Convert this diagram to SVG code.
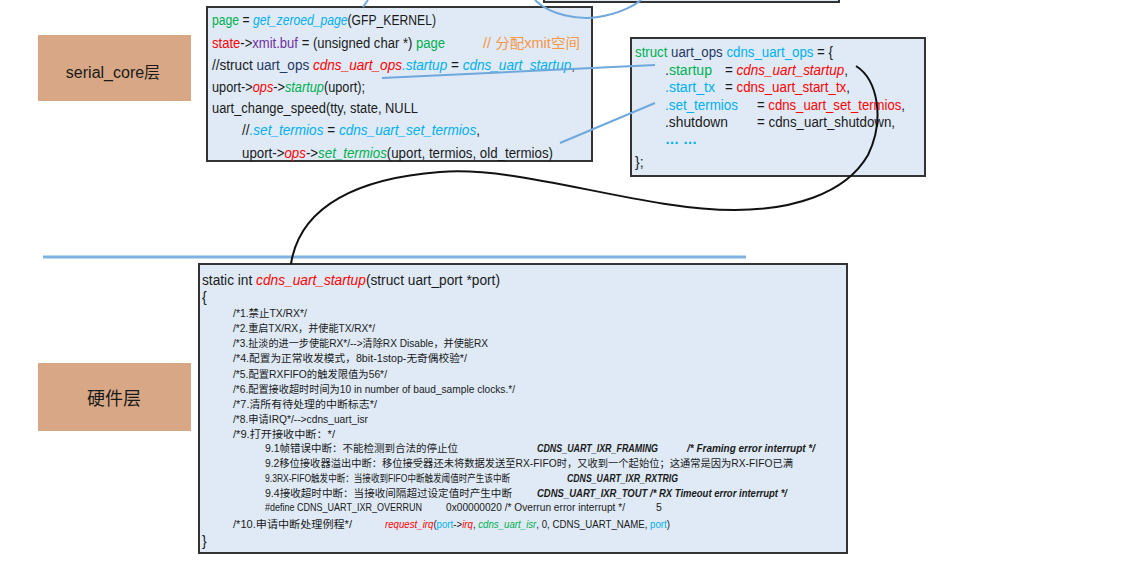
<svg xmlns="http://www.w3.org/2000/svg" width="1122" height="571" viewBox="0 0 1122 571">
<style>
text{font-family:"Liberation Sans","Noto Sans CJK SC",sans-serif;fill:#1a1a1a}
.code{font-size:14px}
.cm{font-size:10.5px}
.lbl{font-size:16px;text-anchor:middle}
.box{fill:#dfeaf6;stroke:#333;stroke-width:2}
.layer{fill:#d8a886}
.g{fill:#00b050}
.b{fill:#00b0f0}
.r{fill:#ff0000}
.p{fill:#7030a0}
.n{fill:#1f3864}
.o{fill:#f79646}
.i{font-style:italic}
.bi{font-style:italic;font-weight:bold}
.blue{fill:none;stroke:#6fa8dc;stroke-width:2}
.blk{fill:none;stroke:#111;stroke-width:2}
</style>

<g id="top-partial-box">
<rect class="box" x="544" y="-20" width="295" height="22"/>
</g>

<g id="serial-core-label">
<rect class="layer" x="38" y="35" width="153" height="66"/>
<text class="lbl" x="113" y="78">serial_core层</text>
</g>

<g id="hw-label">
<rect class="layer" x="38" y="363" width="153" height="68"/>
<text class="lbl" x="114" y="405" style="font-size:18px">硬件层</text>
</g>

<g id="uart-core-code">
<rect class="box" x="207" y="7" width="385" height="154"/>
<text class="code" x="212" y="25" textLength="224" lengthAdjust="spacingAndGlyphs"><tspan class="g">page</tspan> = <tspan class="b i">get_zeroed_page</tspan>(GFP_KERNEL)</text>
<text class="code" x="212" y="48" textLength="233" lengthAdjust="spacingAndGlyphs"><tspan class="r">state</tspan>-&gt;<tspan class="p">xmit.buf</tspan> = (unsigned char *) <tspan class="g">page</tspan></text>
<text class="code o" x="483" y="48" textLength="97" lengthAdjust="spacingAndGlyphs">// 分配xmit空间</text>
<text class="code" x="212" y="70" textLength="363" lengthAdjust="spacingAndGlyphs">//struct <tspan class="n">uart_ops</tspan> <tspan class="r i">cdns_uart_ops</tspan><tspan class="b i">.startup</tspan> = <tspan class="b i">cdns_uart_startup</tspan>,</text>
<text class="code" x="212" y="92" textLength="153" lengthAdjust="spacingAndGlyphs">uport-&gt;<tspan class="r i">ops</tspan>-&gt;<tspan class="g i">startup</tspan>(uport);</text>
<text class="code" x="212" y="113" textLength="206" lengthAdjust="spacingAndGlyphs">uart_change_speed(tty, state, NULL</text>
<text class="code" x="242" y="135" textLength="238" lengthAdjust="spacingAndGlyphs">//<tspan class="b i">.set_termios</tspan> = <tspan class="b i">cdns_uart_set_termios</tspan>,</text>
<text class="code" x="242" y="158" textLength="311" lengthAdjust="spacingAndGlyphs">uport-&gt;<tspan class="r i">ops</tspan>-&gt;<tspan class="g i">set_termios</tspan>(uport, termios, old_termios)</text>
</g>

<g id="uart-ops-struct">
<rect class="box" x="631" y="38" width="294" height="138"/>
<text class="code" x="635" y="57" textLength="198" lengthAdjust="spacingAndGlyphs"><tspan class="g">struct</tspan> <tspan class="n">uart_ops</tspan> <tspan class="b">cdns_uart_ops</tspan> = {</text>
<text class="code" x="665" y="75" textLength="47" lengthAdjust="spacingAndGlyphs"><tspan class="n">.</tspan><tspan class="g">startup</tspan></text>
<text class="code" x="725" y="75" textLength="123" lengthAdjust="spacingAndGlyphs">= <tspan class="r i">cdns_uart_startup</tspan>,</text>
<text class="code b" x="665" y="92" textLength="50" lengthAdjust="spacingAndGlyphs">.start_tx</text>
<text class="code" x="725" y="92" textLength="125" lengthAdjust="spacingAndGlyphs">= <tspan class="r">cdns_uart_start_tx</tspan>,</text>
<text class="code b" x="665" y="110" textLength="73" lengthAdjust="spacingAndGlyphs">.set_termios</text>
<text class="code" x="757" y="110" textLength="148" lengthAdjust="spacingAndGlyphs">= <tspan class="r">cdns_uart_set_termios</tspan>,</text>
<text class="code" x="665" y="127" textLength="63" lengthAdjust="spacingAndGlyphs">.shutdown</text>
<text class="code" x="757" y="127" textLength="138" lengthAdjust="spacingAndGlyphs">= cdns_uart_shutdown,</text>
<text class="code b" x="665" y="144" style="font-weight:bold" textLength="32" lengthAdjust="spacingAndGlyphs">… …</text>
<text class="code" x="635" y="167">};</text>
</g>

<g id="layer-divider">
<line x1="43" y1="257" x2="746" y2="257" stroke="#7fb2e0" stroke-width="3"/>
</g>

<g id="cdns-uart-startup">
<rect class="box" x="199" y="264" width="648" height="289"/>
<text class="code" x="202" y="285" textLength="298" lengthAdjust="spacingAndGlyphs">static int <tspan class="r i">cdns_uart_startup</tspan>(struct uart_port *port)</text>
<text class="code" x="202" y="302">{</text>
<text class="cm" x="233" y="317" textLength="74" lengthAdjust="spacingAndGlyphs">/*1.禁止TX/RX*/</text>
<text class="cm" x="233" y="332" textLength="142" lengthAdjust="spacingAndGlyphs">/*2.重启TX/RX，并使能TX/RX*/</text>
<text class="cm" x="233" y="347" textLength="255" lengthAdjust="spacingAndGlyphs">/*3.扯淡的进一步使能RX*/--&gt;清除RX Disable，并使能RX</text>
<text class="cm" x="233" y="362" textLength="234" lengthAdjust="spacingAndGlyphs">/*4.配置为正常收发模式，8bit-1stop-无奇偶校验*/</text>
<text class="cm" x="233" y="378" textLength="154" lengthAdjust="spacingAndGlyphs">/*5.配置RXFIFO的触发限值为56*/</text>
<text class="cm" x="233" y="393" textLength="282" lengthAdjust="spacingAndGlyphs">/*6.配置接收超时时间为10 in number of baud_sample clocks.*/</text>
<text class="cm" x="233" y="408" textLength="144" lengthAdjust="spacingAndGlyphs">/*7.清所有待处理的中断标志*/</text>
<text class="cm" x="233" y="423" textLength="135" lengthAdjust="spacingAndGlyphs">/*8.申请IRQ*/--&gt;cdns_uart_isr</text>
<text class="cm" x="233" y="438" textLength="102" lengthAdjust="spacingAndGlyphs">/*9.打开接收中断：*/</text>
<text class="cm" x="265" y="452" textLength="193" lengthAdjust="spacingAndGlyphs">9.1帧错误中断：不能检测到合法的停止位</text>
<text class="cm bi" x="537" y="452" textLength="121" lengthAdjust="spacingAndGlyphs">CDNS_UART_IXR_FRAMING</text>
<text class="cm bi" x="687" y="452" textLength="128" lengthAdjust="spacingAndGlyphs">/* Framing error interrupt */</text>
<text class="cm" x="265" y="467" textLength="528" lengthAdjust="spacingAndGlyphs">9.2移位接收器溢出中断：移位接受器还未将数据发送至RX-FIFO时，又收到一个起始位；这通常是因为RX-FIFO已满</text>
<text class="cm" x="265" y="482" textLength="245" lengthAdjust="spacingAndGlyphs">9.3RX-FIFO触发中断：当接收到FIFO中断触发阈值时产生该中断</text>
<text class="cm bi" x="567" y="482" textLength="111" lengthAdjust="spacingAndGlyphs">CDNS_UART_IXR_RXTRIG</text>
<text class="cm" x="265" y="497" textLength="247" lengthAdjust="spacingAndGlyphs">9.4接收超时中断：当接收间隔超过设定值时产生中断</text>
<text class="cm bi" x="537" y="497" textLength="250" lengthAdjust="spacingAndGlyphs">CDNS_UART_IXR_TOUT /* RX Timeout error interrupt */</text>
<text class="cm" x="265" y="511" textLength="157" lengthAdjust="spacingAndGlyphs">#define CDNS_UART_IXR_OVERRUN</text>
<text class="cm" x="446" y="511" textLength="179" lengthAdjust="spacingAndGlyphs">0x00000020 /* Overrun error interrupt */</text>
<text class="cm" x="656" y="511">5</text>
<text class="cm" x="233" y="528" textLength="119" lengthAdjust="spacingAndGlyphs">/*10.申请中断处理例程*/</text>
<text class="cm" x="385" y="528" textLength="285" lengthAdjust="spacingAndGlyphs"><tspan class="r i">request_irq</tspan>(<tspan class="b">port</tspan>-&gt;<tspan class="r i">irq</tspan>, <tspan class="g i">cdns_uart_isr</tspan>, 0, CDNS_UART_NAME, <tspan class="b">port</tspan>)</text>
<text class="code" x="202" y="546">}</text>
</g>

<g id="connectors">
<path class="blue" d="M 535 0 C 550 15 578 20 598 17 C 618 14 634 6 641 0"/>
<path class="blue" d="M 368 0 L 363 7"/>
<path class="blue" d="M 382 78 L 655 65"/>
<path class="blue" d="M 560 143 L 655 103"/>
<path class="blk" d="M 856 66 C 878 80 885 120 868 155 C 845 195 790 210 735 210 C 640 210 520 165 440 172 C 360 178 300 205 291 264"/>
</g>
</svg>
